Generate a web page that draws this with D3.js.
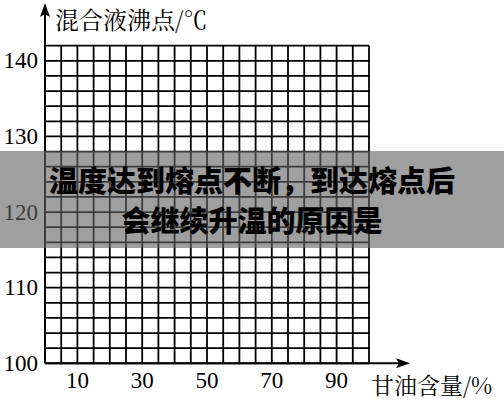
<!DOCTYPE html>
<html>
<head>
<meta charset="utf-8">
<script src="https://cdn.jsdelivr.net/npm/d3@7"></script>
<style>
  html, body { margin: 0; padding: 0; background: #fff; }
  svg { display: block; }
</style>
</head>
<body>
<div id="chart"></div>
<script>
// axis ticks and grid steps
const xTicks = [10, 30, 50, 70, 90];
const yTicks = [100, 110, 120, 130, 140];
const xGrid = d3.range(0, 101, 5);
const yGrid = d3.range(100, 143, 2);
const yTitle = '混合液沸点/℃';
const xTitle = '甘油含量/%';
const bannerLines = ['温度达到熔点不断，到达熔点后', '会继续升温的原因是'];

const chart = () => {
  const width = 504;
  const height = 400;
  const svg = d3.select('#chart')
    .append('svg')
    .attr('width', width)
    .attr('height', height);

  const x = d3.scaleLinear().domain([0, 100]).range([45, 369]);
  const y = d3.scaleLinear().domain([100, 140]).range([363.3, 60.8]);
  const serif = '"Liberation Serif", "DejaVu Serif", serif';
  const cjk = '"Noto Serif CJK SC", "Noto Sans CJK SC", sans-serif';

  // grid
  const grid = svg.append('g')
    .attr('stroke', '#000')
    .attr('stroke-width', 1.8);
  grid.selectAll('line.v')
    .data(xGrid)
    .join('line')
    .attr('class', 'v')
    .attr('x1', d => x(d))
    .attr('x2', d => x(d))
    .attr('y1', y(100))
    .attr('y2', y(142));
  grid.selectAll('line.h')
    .data(yGrid)
    .join('line')
    .attr('class', 'h')
    .attr('x1', x(0))
    .attr('x2', x(100))
    .attr('y1', d => y(d))
    .attr('y2', d => y(d));

  // axes with arrows
  const axes = svg.append('g');
  axes.append('line')
    .attr('x1', x(0)).attr('x2', x(0))
    .attr('y1', y(100)).attr('y2', 12)
    .attr('stroke', '#000').attr('stroke-width', 2);
  axes.append('path')
    .attr('d', `M${x(0)},3 L${x(0) - 5},17 L${x(0)},14 L${x(0) + 5},17 Z`)
    .attr('fill', '#000');
  axes.append('line')
    .attr('x1', x(0)).attr('x2', 402)
    .attr('y1', y(100)).attr('y2', y(100))
    .attr('stroke', '#000').attr('stroke-width', 2);
  axes.append('path')
    .attr('d', `M410,${y(100)} L396,${y(100) - 5} L399,${y(100)} L396,${y(100) + 5} Z`)
    .attr('fill', '#000');

  // tick labels
  svg.append('g')
    .selectAll('text')
    .data(yTicks)
    .join('text')
    .attr('x', 38)
    .attr('y', d => y(d))
    .attr('dy', '0.33em')
    .attr('text-anchor', 'end')
    .attr('font-family', serif)
    .attr('font-size', 23)
    .text(d => d);
  svg.append('g')
    .selectAll('text')
    .data(xTicks)
    .join('text')
    .attr('x', d => x(d))
    .attr('y', y(100) + 25)
    .attr('text-anchor', 'middle')
    .attr('font-family', serif)
    .attr('font-size', 23)
    .text(d => d);

  // axis titles
  svg.append('text')
    .attr('x', 55)
    .attr('y', 29)
    .attr('font-family', cjk)
    .attr('font-size', 24)
    .text(yTitle);
  svg.append('text')
    .attr('x', 371)
    .attr('y', 394)
    .attr('font-family', cjk)
    .attr('font-size', 23)
    .text(xTitle);

  // overlay banner
  svg.append('rect')
    .attr('x', 0)
    .attr('y', 151)
    .attr('width', width)
    .attr('height', 97)
    .attr('fill', 'rgb(98,98,98)')
    .attr('fill-opacity', 0.61);
  svg.append('g')
    .selectAll('text')
    .data(bannerLines)
    .join('text')
    .attr('x', width / 2)
    .attr('y', (d, i) => 192 + i * 40)
    .attr('text-anchor', 'middle')
    .attr('font-family', '"Noto Sans CJK SC", sans-serif')
    .attr('font-weight', 900)
    .attr('font-size', 29)
    .attr('fill', '#000')
    .text(d => d);
}

chart();
</script>
</body>
</html>
